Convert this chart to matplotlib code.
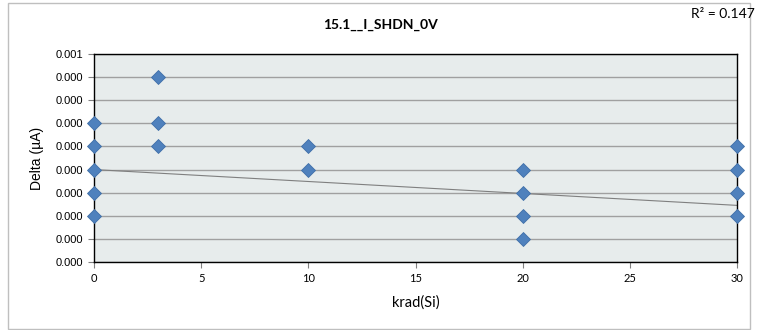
import numpy as np
import matplotlib.pyplot as plt
from matplotlib.patches import Rectangle

# data (delta values in uA)
dose_krad = [0, 0, 0, 0, 0, 3, 3, 3, 10, 10, 20, 20, 20, 20, 30, 30, 30, 30]
delta_ua = [0.0006, 0.0005, 0.0004, 0.0003, 0.0002,
            0.0008, 0.0006, 0.0005,
            0.0005, 0.0004,
            0.0004, 0.0003, 0.0002, 0.0001,
            0.0005, 0.0004, 0.0003, 0.0002]
trend_x = [0, 30]
trend_y = [0.0004, 0.000245]
y_ticks = [0.0000, 0.0001, 0.0002, 0.0003, 0.0004, 0.0005, 0.0006, 0.0007, 0.0008, 0.0009]
y_tick_labels = ['0.000'] * 9 + ['0.001']
x_ticks = [0, 5, 10, 15, 20, 25, 30]
title = '15.1__I_SHDN_0V'
r2_text = 'R² = 0.147'

fig = plt.figure(figsize=(7.59, 3.30), dpi=100)
fig.patches.append(Rectangle((8 / 759, 1 / 330), 742 / 759, 326 / 330, transform=fig.transFigure,
                             fill=False, edgecolor='#bfbfbf', linewidth=1.0))

ax = fig.add_axes([94 / 759, 1 - 262 / 330, 643 / 759, 208 / 330])
ax.set_facecolor('#e7ecec')

ax.plot(trend_x, trend_y, color='#7f7f7f', linewidth=0.8, zorder=2)
ax.plot(dose_krad, delta_ua, linestyle='none', marker='D', markersize=7.5,
        markerfacecolor='#4f81bd', markeredgecolor='#3f6fa8', markeredgewidth=0.6,
        clip_on=False, zorder=3)

ax.set_xlim(0, 30)
ax.set_ylim(0, 0.0009)
ax.set_xticks(x_ticks)
ax.set_yticks(y_ticks)
ax.set_yticklabels(y_tick_labels, fontfamily='Liberation Sans', fontsize=8)
ax.set_xticklabels([str(t) for t in x_ticks], fontfamily='Lato', fontsize=8)
ax.yaxis.grid(True, color='#a0a0a0', linewidth=1.0)
ax.set_axisbelow(True)
for side in ['left', 'bottom', 'top', 'right']:
    ax.spines[side].set_color('black')
    ax.spines[side].set_linewidth(1.0)
ax.tick_params(axis='both', direction='out', length=4, width=0.8, color='#808080', pad=4)

ax.set_ylabel('Delta (µA)', fontfamily='Liberation Sans', fontsize=10, labelpad=8)
ax.set_xlabel('krad(Si)', fontfamily='Lato', fontsize=10.5, labelpad=8)

fig.text(380 / 759, 1 - 25 / 330, title, ha='center', va='center',
         fontfamily='Lato', fontweight='bold', fontsize=10)
fig.text(755 / 759, 1 - 14 / 330, r2_text, ha='right', va='center',
         fontfamily='Lato', fontsize=10)

fig.savefig('out.png', dpi=100)
